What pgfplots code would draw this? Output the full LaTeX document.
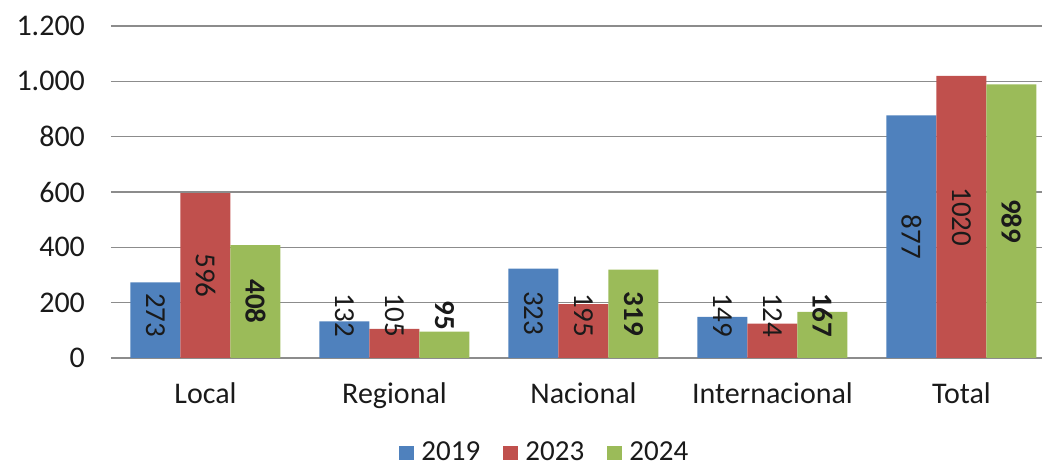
\documentclass[border=0pt]{standalone}
\usepackage{pgfplots}
\pgfplotsset{compat=1.18}
\usepackage{pgfplotstable}
\usepackage{fontspec}
\setmainfont{Carlito}
\definecolor{c19}{HTML}{4F81BD}
\definecolor{c23}{HTML}{C0504D}
\definecolor{c24}{HTML}{9BBB59}
\definecolor{gridc}{HTML}{8C8C8C}
\definecolor{txt}{HTML}{1A1A1A}
\pgfplotstableread{
x v19 v23 v24 p19 p23 p24
0 273 596 408 155 298 204
1 132 105 95 155 155 155
2 323 195 319 161.5 155 159.5
3 149 124 167 155 155 155
4 877 1020 989 438.5 510 494.5
}\data
\newcommand{\ff}{\fontsize{14.5}{17}\selectfont}
\newcommand{\tf}{\fontsize{15}{18}\selectfont}
\begin{document}
\begin{tikzpicture}
\begin{axis}[
  name=ax,
  scale only axis, width=465.5pt, height=166pt,
  ybar, bar width=25pt,
  xmin=-0.5, xmax=4.426, ymin=0, ymax=1200,
  enlargelimits=false,
  axis line style={draw=none},
  major tick length=0pt,
  ytick={0,200,...,1200},
  ymajorgrids, grid style={gridc, line width=0.75pt},
  xtick={0,1,2,3,4},
  xticklabels={Local,Regional,Nacional,Internacional,Total},
  /pgf/number format/assume math mode=true,
  /pgf/number format/1000 sep={.},
  tick label style={font=\tf, text=txt},
  yticklabel style={xshift=-9.5pt},
  xticklabel style={yshift=-9pt},
  legend style={draw=none, fill=none, font=\ff, text=txt, legend columns=-1,
    at={(rel axis cs:0.467,-0.286)}, anchor=center,
    /tikz/every odd column/.append style={column sep=1.5pt},
    /tikz/every even column/.append style={column sep=9.5pt}},
  legend image code/.code={\fill[#1] (0pt,-3.3pt) rectangle (7.6pt,3.3pt);},
  nodes near coords={\pgfmathprintnumber[1000 sep={}]{\pgfplotspointmeta}},
  every node near coord/.append style={anchor=center, rotate=-90, font=\ff, text=txt},
]
\addplot[fill=c19, draw=none, bar shift=-25pt, nodes near coords={}] table[x=x,y=v19] {\data};
\addplot[fill=c23, draw=none, bar shift=0pt, nodes near coords={}] table[x=x,y=v23] {\data};
\addplot[fill=c24, draw=none, bar shift=25pt, nodes near coords={}] table[x=x,y=v24] {\data};
\legend{2019,2023,2024}
\addplot[draw=none, fill=none, bar shift=-25pt, forget plot, point meta=explicit] table[x=x,y=p19,meta=v19] {\data};
\addplot[draw=none, fill=none, bar shift=0pt, forget plot, point meta=explicit] table[x=x,y=p23,meta=v23] {\data};
\addplot[draw=none, fill=none, bar shift=25pt, forget plot, point meta=explicit,
  every node near coord/.append style={font=\ff\bfseries}] table[x=x,y=p24,meta=v24] {\data};
\end{axis}
\pgfresetboundingbox
\path[use as bounding box] ([xshift=-55.5pt,yshift=-55.5pt]ax.south west) rectangle ([yshift=13pt]ax.north east);
\end{tikzpicture}
\end{document}
